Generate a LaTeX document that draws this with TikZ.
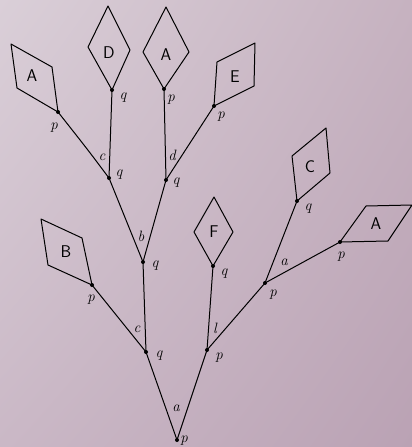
\documentclass[tikz,border=0pt]{standalone}
\usepackage{fontspec}
\usepackage{tikz}
\usetikzlibrary{shadings}
\definecolor{bgtl}{RGB}{218,207,216}
\definecolor{bgbr}{RGB}{186,162,180}
\definecolor{bgtr}{RGB}{198,178,192}
\definecolor{bgbl}{RGB}{202,184,198}
\tikzset{
  lbl/.style={font=\itshape\fontsize{15}{16}\selectfont, inner sep=0pt},
  leaf/.style={font=\sffamily\fontsize{17}{18}\selectfont, inner sep=0pt},
  jn/.style={circle, fill=black, inner sep=0pt, minimum size=4pt},
}
\begin{document}
\begin{tikzpicture}[line width=1pt, x=1pt, y=-1pt, line join=round]
  \shade[upper left=bgtl, upper right=bgtr, lower left=bgbl, lower right=bgbr] (0,0) rectangle (412,447);
  \useasboundingbox (0,0) rectangle (412,447);
  % junctions
  \node[jn] (root) at (177,440) {};
  \node[jn] (qL) at (146,352) {};
  \node[jn] (pR) at (207,350) {};
  \node[jn] (pB) at (92,285) {};
  \node[jn] (qB) at (143,262) {};
  \node[jn] (qC) at (109,178) {};
  \node[jn] (qD) at (166,180) {};
  \node[jn] (pA) at (58,112) {};
  \node[jn] (qDd) at (112,90) {};
  \node[jn] (pAm) at (164,89) {};
  \node[jn] (pE) at (214,106) {};
  \node[jn] (qF) at (213,266) {};
  \node[jn] (pRa) at (265,283) {};
  \node[jn] (qCc) at (297,201) {};
  \node[jn] (pAr) at (340,242) {};
  % branches
  \draw (root.center) -- (qL.center);
  \draw (root.center) -- (pR.center);
  \draw (qL.center) -- (pB.center);
  \draw (qL.center) -- (qB.center);
  \draw (qB.center) -- (qC.center);
  \draw (qB.center) -- (qD.center);
  \draw (qC.center) .. controls (88,150) .. (pA.center);
  \draw (qC.center) -- (qDd.center);
  \draw (qD.center) -- (pAm.center);
  \draw (qD.center) -- (pE.center);
  \draw (pR.center) -- (qF.center);
  \draw (pR.center) -- (pRa.center);
  \draw (pRa.center) -- (qCc.center);
  \draw (pRa.center) -- (pAr.center);
  % leaves
  \draw (pB.center) -- (82,238) -- (41,219) -- (48,265) -- cycle;
  \draw (pA.center) -- (52,67) -- (11,44) -- (17,88) -- cycle;
  \draw (qDd.center) -- (130,50) -- (108,6) -- (88,47) -- cycle;
  \draw (pAm.center) -- (189,52) -- (166,7) -- (143,52) -- cycle;
  \draw (pE.center) -- (217,62) -- (255,43) -- (254,86) -- cycle;
  \draw (qF.center) -- (233,232) -- (214,197) -- (194,232) -- cycle;
  \draw (qCc.center) -- (292,156) -- (326,128) -- (330,173) -- cycle;
  \draw (pAr.center) -- (366,206) -- (412,205) -- (388,241) -- cycle;
  \node[leaf] (lB) at (66,252) {B};
  \node[leaf] (lA) at (32,76) {A};
  \node[leaf] (lD) at (109,53) {D};
  \node[leaf] (lAm) at (166,55) {A};
  \node[leaf] (lE) at (235,77) {E};
  \node[leaf] (lF) at (214,232) {F};
  \node[leaf] (lC) at (310,167) {C};
  \node[leaf] (lAr) at (376,224) {A};
  % labels
  \node[lbl] (t1) at (184,441) {p};
  \node[lbl] (t2) at (176,408) {a};
  \node[lbl] (t3) at (159,356) {q};
  \node[lbl] (t4) at (137,329) {c};
  \node[lbl] (t5) at (91,300) {p};
  \node[lbl] (t6) at (155,266) {q};
  \node[lbl] (t7) at (141,236) {b};
  \node[lbl] (t8) at (102,157) {c};
  \node[lbl] (t9) at (119,175) {q};
  \node[lbl] (t10) at (54,128) {p};
  \node[lbl] (t11) at (123,98) {q};
  \node[lbl] (t12) at (171,100) {p};
  \node[lbl] (t13) at (172,155) {d};
  \node[lbl] (t14) at (176,183) {q};
  \node[lbl] (t15) at (221,117) {p};
  \node[lbl] (t16) at (224,274) {q};
  \node[lbl] (t17) at (215,328) {l};
  \node[lbl] (t18) at (219,358) {p};
  \node[lbl] (t19) at (284,262) {a};
  \node[lbl] (t20) at (273,295) {p};
  \node[lbl] (t21) at (308,209) {q};
  \node[lbl] (t22) at (341,257) {p};
\end{tikzpicture}
\end{document}
